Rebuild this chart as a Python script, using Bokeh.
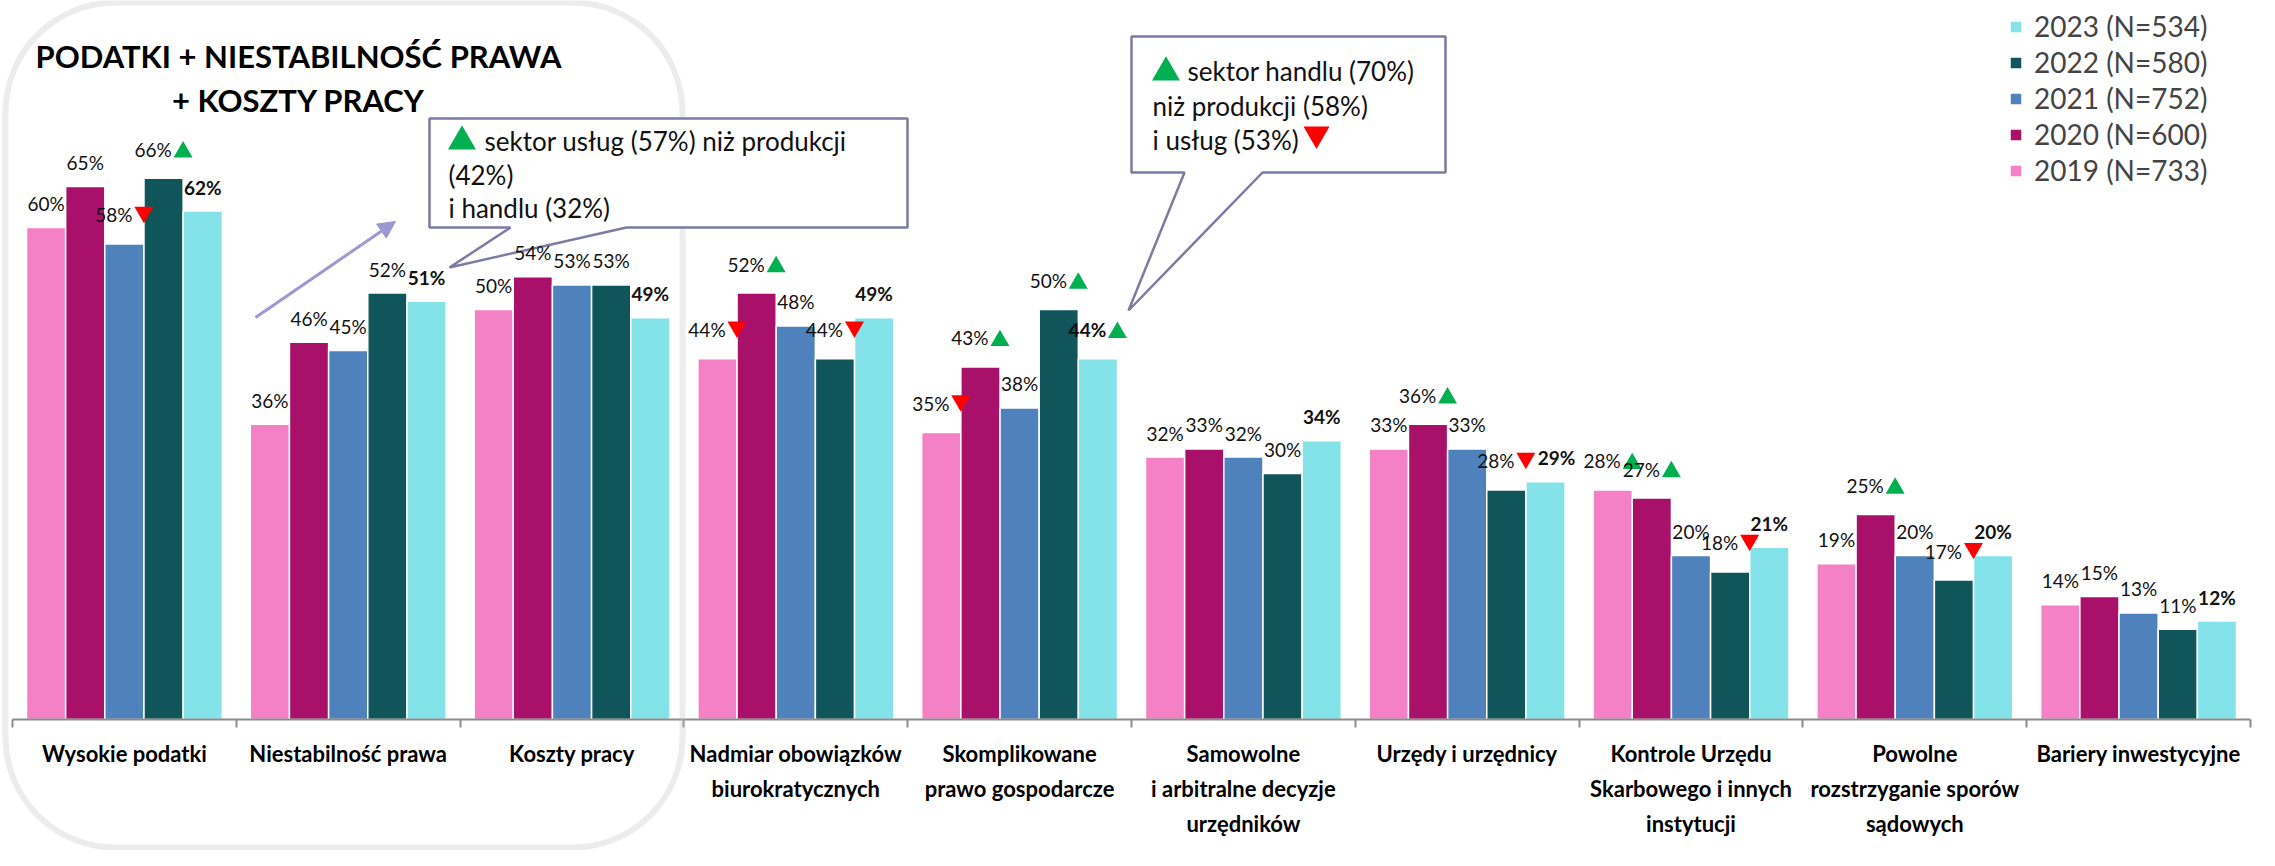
from bokeh.plotting import figure
from bokeh.models import (ColumnDataSource, Range1d, FixedTicker, BoxAnnotation,
                          Arrow, NormalHead, Legend, LegendItem)
from bokeh.core.properties import value
from bokeh.embed import file_html
from bokeh.resources import INLINE

# ---------------- data ----------------
categories = [
    "Wysokie podatki",
    "Niestabilność prawa",
    "Koszty pracy",
    "Nadmiar obowiązków\nbiurokratycznych",
    "Skomplikowane\nprawo gospodarcze",
    "Samowolne\ni arbitralne decyzje\nurzędników",
    "Urzędy i urzędnicy",
    "Kontrole Urzędu\nSkarbowego i innych\ninstytucji",
    "Powolne\nrozstrzyganie sporów\nsądowych",
    "Bariery inwestycyjne",
]
years = ["2019", "2020", "2021", "2022", "2023"]
legend_labels = ["2019 (N=733)", "2020 (N=600)", "2021 (N=752)", "2022 (N=580)", "2023 (N=534)"]

v2019 = [60, 36, 50, 44, 35, 32, 33, 28, 19, 14]
v2020 = [65, 46, 54, 52, 43, 33, 36, 27, 25, 15]
v2021 = [58, 45, 53, 48, 38, 32, 33, 20, 20, 13]
v2022 = [66, 52, 53, 44, 50, 30, 28, 18, 17, 11]
v2023 = [62, 51, 49, 49, 44, 34, 29, 21, 20, 12]

# significance markers (up = green triangle, down = red triangle)
s2019 = ["", "", "", "down", "down", "", "", "up", "", ""]
s2020 = ["", "", "", "up", "up", "", "up", "up", "up", ""]
s2021 = ["down", "", "", "", "", "", "", "", "", ""]
s2022 = ["up", "", "", "down", "up", "", "down", "down", "down", ""]
s2023 = ["", "", "", "", "up", "", "", "", "", ""]

title_lines = ["PODATKI + NIESTABILNOŚĆ PRAWA", "+ KOSZTY PRACY"]
note1_lines = ["sektor usług (57%) niż produkcji", "(42%)", "i handlu (32%)"]
note2_lines = ["sektor handlu (70%)", "niż produkcji (58%)", "i usług (53%)"]

series = [v2019, v2020, v2021, v2022, v2023]
signif = [s2019, s2020, s2021, s2022, s2023]
colors = ["#F481C5", "#A9106A", "#4F81BD", "#10555A", "#83E3E9"]
UP_COLOR = "#00B050"
DOWN_COLOR = "#FF0000"

# manual label nudges in px: (category index, series index) -> dx
label_nudge = {(6, 4): 11}

# ---------------- geometry ----------------
CANVAS_W, CANVAS_H = 2259, 850     # frame covers the whole canvas
N = len(categories)
PX_X = 223.8                        # px per category
PX_Y = 8.2                          # px per percent
BAR_W = 0.175

# reference-pixel helpers (page coordinates of the reference image)
def X(px):
    return (px - 20) / PX_X

def Y(py):
    return (727 - py) / PX_Y

FONT = "Lato"

p = figure(frame_width=CANVAS_W, frame_height=CANVAS_H,
           x_range=Range1d(X(8), X(8 + CANVAS_W)), y_range=Range1d(Y(8 + CANVAS_H), Y(8)),
           y_axis_location=None, toolbar_location=None, output_backend="svg",
           min_border=0)
p.outline_line_color = None
p.grid.visible = False
p.background_fill_color = "white"

# rounded frame around first three categories
p.add_layout(BoxAnnotation(left=X(13), right=X(690), top=Y(10), bottom=Y(855),
                           border_radius=110, fill_alpha=0, fill_color=None,
                           line_color="#C0C0C0", line_width=6))

# ---------------- bars ----------------
renderers = []
for j, (vals, col) in enumerate(zip(series, colors)):
    centers = [i + 0.5 + (j - 2) * BAR_W for i in range(N)]
    src = ColumnDataSource(dict(x=centers, top=vals))
    r = p.vbar(x="x", top="top", bottom=0, width=BAR_W, source=src, fill_color=col,
               line_color="white", line_width=1.5)
    renderers.append(r)

# ---------------- title ----------------
p.text(x=[X(306), X(306)], y=[Y(63), Y(107)], text=title_lines, text_align="center",
       text_baseline="middle", text_font=value(FONT), text_font_size="31px",
       text_font_style="bold", text_color="#000000")

# ---------------- arrow ----------------
p.add_layout(Arrow(end=NormalHead(size=17, fill_color="#9C98D0", line_color="#9C98D0"),
                   x_start=X(263), y_start=Y(325), x_end=X(403), y_end=Y(229),
                   line_color="#9C98D0", line_width=3))

# ---------------- callouts (overlay level, above the rounded frame) ----------------
c1 = [(437, 126), (915, 126), (915, 235), (634, 235), (457, 275), (518, 235), (437, 235)]
c2 = [(1139, 44), (1453, 44), (1453, 180), (1270, 180), (1136, 318), (1192, 180), (1139, 180)]
for poly in (c1, c2):
    p.patch(x=[X(a) for a, b in poly], y=[Y(b) for a, b in poly], fill_color="white",
            line_color="#7B7BA3", line_width=2.5, level="overlay")

note_font = dict(text_align="left", text_baseline="middle", text_font=value(FONT),
                 text_font_size="26px", text_color="#111111", level="overlay")
p.text(x=[X(492), X(456), X(456)], y=[Y(148), Y(182), Y(215)], text=note1_lines, **note_font)
p.text(x=[X(1195), X(1160), X(1160)], y=[Y(78), Y(113), Y(147)], text=note2_lines, **note_font)
p.scatter(x=[X(469.5), X(1173.5)], y=[Y(149), Y(80)], marker="triangle", size=28,
          fill_color=UP_COLOR, line_color=None, level="overlay")
p.scatter(x=[X(1324)], y=[Y(141.5)], marker="inverted_triangle", size=26,
          fill_color=DOWN_COLOR, line_color=None, level="overlay")

# ---------------- value labels ----------------
for j, (vals, sig) in enumerate(zip(series, signif)):
    centers = [i + 0.5 + (j - 2) * BAR_W for i in range(N)]
    lx, ly, lt = [], [], []
    ux, uy, dx, dy = [], [], [], []
    for i, (c, v, s) in enumerate(zip(centers, vals, sig)):
        nud = label_nudge.get((i, j), 0) / PX_X
        if s:
            yl = v + 29 / PX_Y
            lx.append(c - 10.5 / PX_X + nud)
            ly.append(yl)
            mx = c + 19.5 / PX_X + nud
            if s == "up":
                ux.append(mx); uy.append(yl - 2.7 / PX_Y)
            else:
                dx.append(mx); dy.append(yl + 2.7 / PX_Y)
        else:
            lx.append(c + nud)
            ly.append(v + 24 / PX_Y)
        lt.append(f"{v}%")
    p.text(x=lx, y=ly, text=lt, text_align="center", text_baseline="middle",
           text_font=value(FONT), text_font_size="19px", text_color="#111111",
           text_font_style="bold" if j == 4 else "normal", level="overlay")
    if ux:
        p.scatter(x=ux, y=uy, marker="triangle", size=19, fill_color=UP_COLOR,
                  line_color=None, level="overlay")
    if dx:
        p.scatter(x=dx, y=dy, marker="inverted_triangle", size=19, fill_color=DOWN_COLOR,
                  line_color=None, level="overlay")

# ---------------- axis (placed at y = 0 inside the frame) ----------------
ax = p.xaxis[0]
ax.fixed_location = 0
ax.bounds = (0, N)
ax.ticker = FixedTicker(ticks=[i + 0.5 for i in range(N)], minor_ticks=list(range(N + 1)))
ax.major_label_overrides = {i + 0.5: categories[i] for i in range(N)}
ax.axis_line_color = "#8C8C8C"
ax.axis_line_width = 2
ax.major_tick_line_color = None
ax.minor_tick_line_color = "#8C8C8C"
ax.minor_tick_line_width = 2
ax.minor_tick_in = 0
ax.minor_tick_out = 8
ax.major_tick_out = 0
ax.major_tick_in = 0
ax.major_label_standoff = 12
ax.major_label_text_font = FONT
ax.major_label_text_font_size = "22px"
ax.major_label_text_font_style = "bold"
ax.major_label_text_color = "#000000"
ax.major_label_text_line_height = 1.3

# ---------------- legend ----------------
items = [LegendItem(label=legend_labels[j], renderers=[renderers[j]]) for j in range(4, -1, -1)]
legend = Legend(items=items, location=(2008, 663), glyph_width=15, glyph_height=15,
                label_standoff=11, label_text_font=FONT, label_text_font_size="28px",
                label_height=34, spacing=2, padding=0, margin=0,
                border_line_color=None, background_fill_alpha=0)
p.add_layout(legend)

open("out.html", "w").write(file_html(p, INLINE))
